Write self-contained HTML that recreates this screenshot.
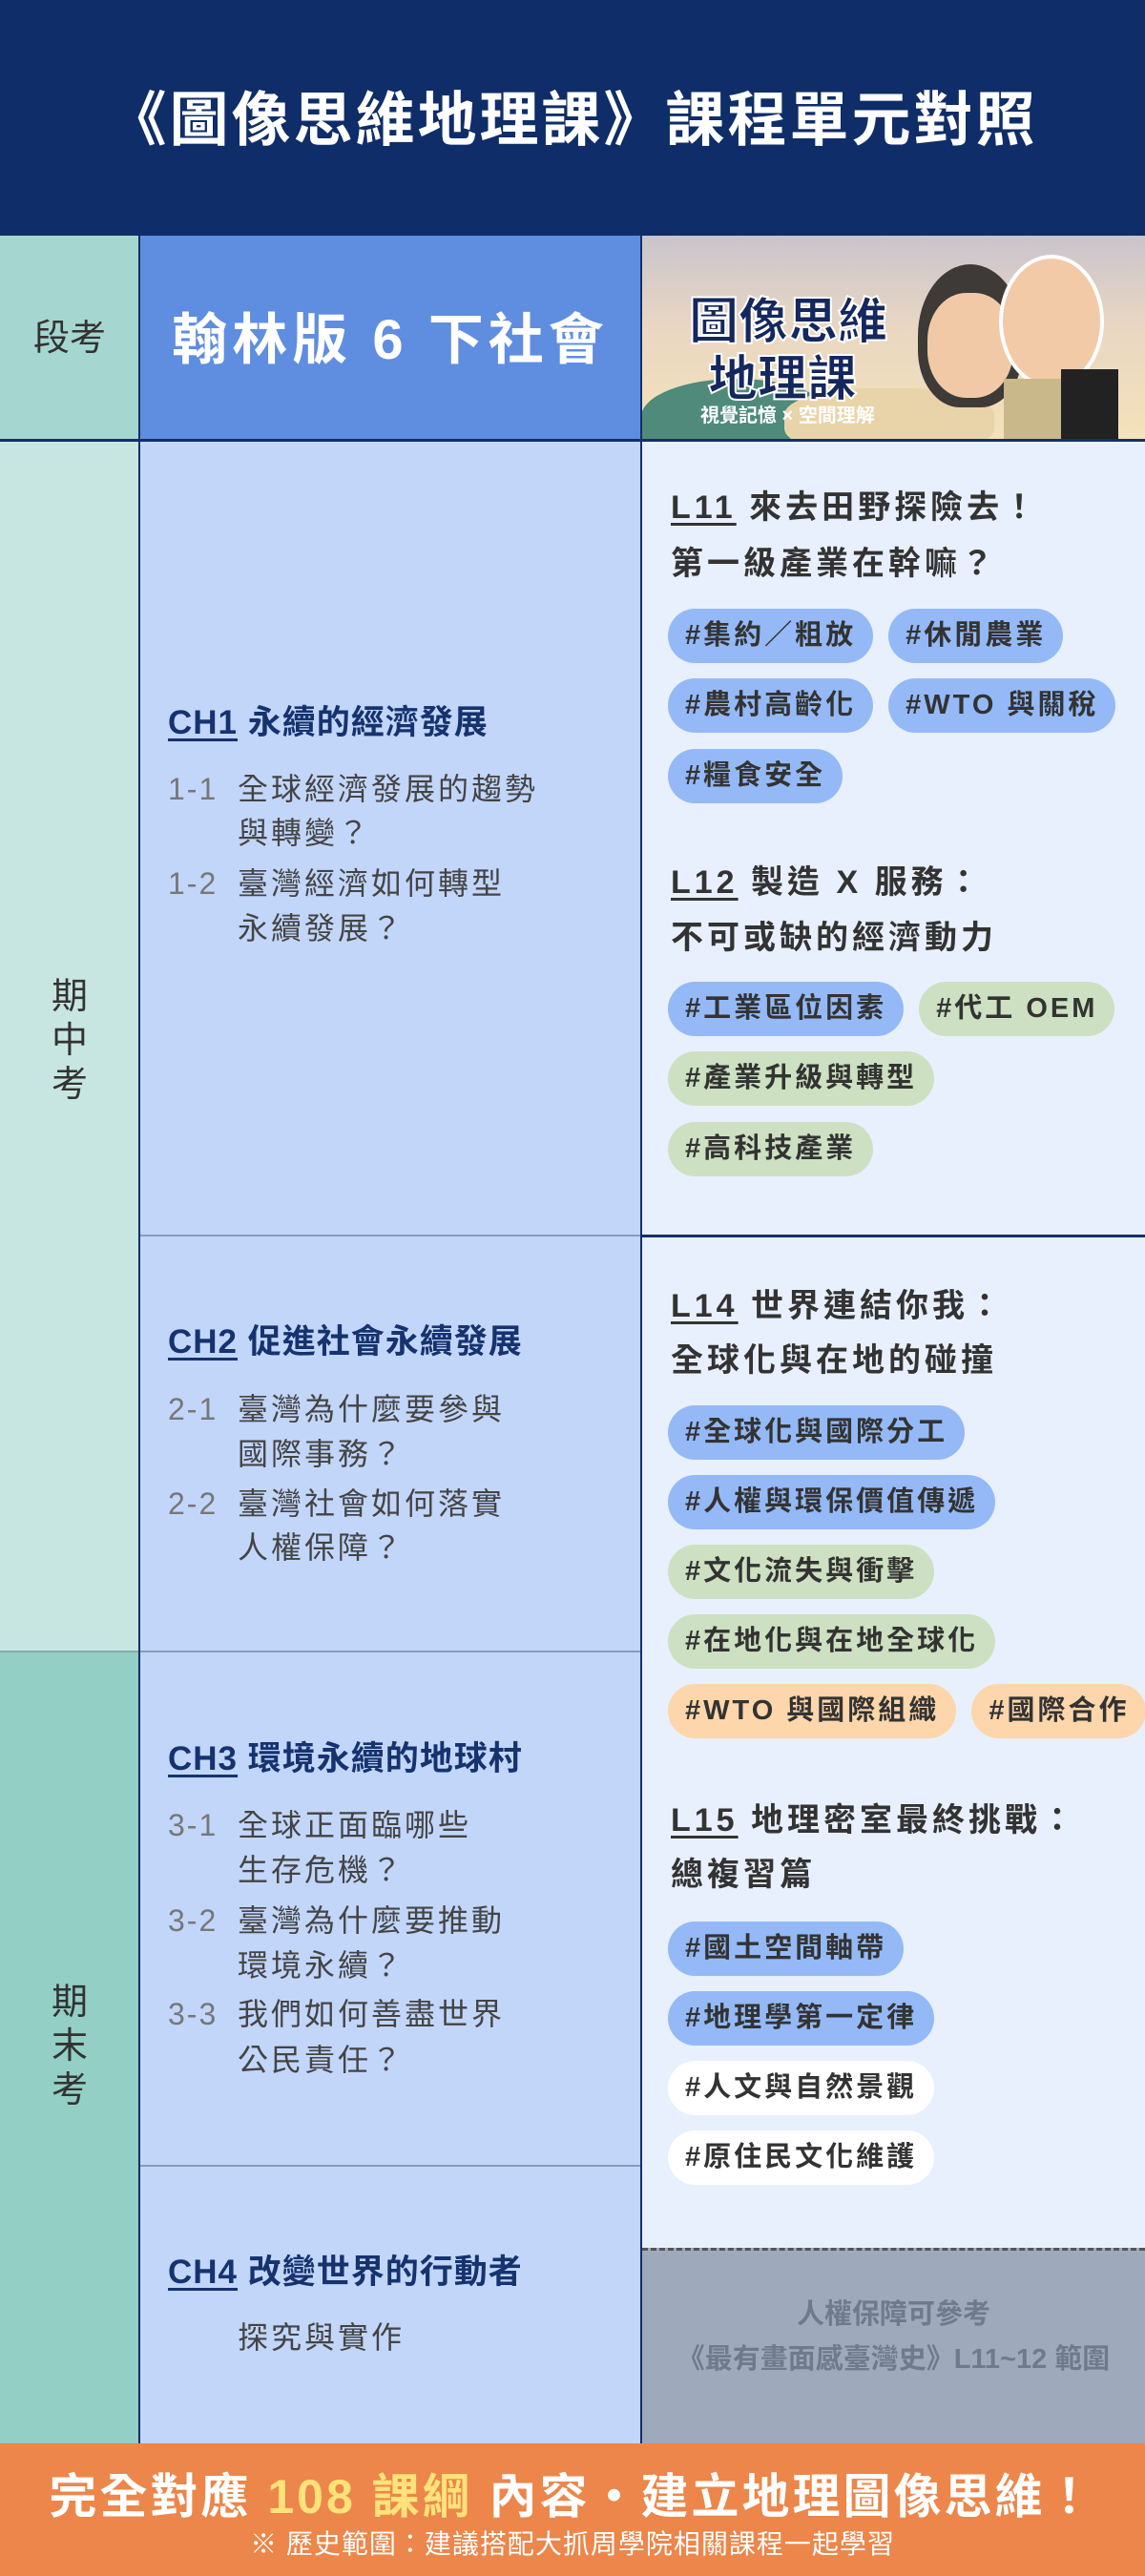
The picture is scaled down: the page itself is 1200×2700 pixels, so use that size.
<!DOCTYPE html>
<html><head><meta charset="utf-8">
<style>
*{margin:0;padding:0;box-sizing:border-box}
body{width:1200px;height:2700px;position:relative;overflow:hidden;font-family:"Liberation Sans","Noto Sans CJK TC",sans-serif;background:#e8f0fd}
.a{position:absolute}
.t{position:absolute;white-space:nowrap}
.ch{font-size:35px;font-weight:700;color:#16336f;height:50px;line-height:50px;left:176px;letter-spacing:1px}
.ch u{text-decoration-thickness:3px;text-underline-offset:5px}
.it{font-size:32px;color:#444;height:44px;line-height:44px;left:176px;letter-spacing:3px}
.it b{font-weight:400;color:#777;display:inline-block;width:73px;letter-spacing:2px}
.it.c{left:249px}
.lt{font-size:34px;font-weight:700;color:#333;height:50px;line-height:50px;left:703px;letter-spacing:4px}
.lt u{text-decoration-thickness:3px;text-underline-offset:5px}
.row{position:absolute;left:700px;height:57px;display:flex;gap:16px}
.tag{height:57px;line-height:57px;border-radius:29px;padding:0 18px;font-size:29px;color:#333;font-weight:600;letter-spacing:3px;white-space:nowrap}
.b{background:#94b9f6}.g{background:#cde0c1}.o{background:#fdd6ab}.w{background:#fff}
</style></head><body>
<div class="a" style="left:0;top:0;width:1200px;height:247px;background:#0f2d68"></div>
<div class="t" style="left:0;width:1200px;top:95px;height:64px;line-height:64px;text-align:center;font-size:62px;font-weight:700;color:#fff;letter-spacing:3px">《圖像思維地理課》課程單元對照</div>

<div class="a" style="left:0;top:247px;width:146px;height:215px;background:#a5d6cf"></div>
<div class="a" style="left:146px;top:247px;width:526px;height:215px;background:#5f8ee0"></div>
<div class="t" style="left:0;width:146px;top:330px;height:50px;line-height:50px;text-align:center;font-size:38px;color:#333">段考</div>
<div class="t" style="left:146px;width:526px;top:325px;height:64px;line-height:64px;text-align:center;font-size:58px;font-weight:700;color:#fff;letter-spacing:5px">翰林版 6 下社會</div>
<div class="a" style="left:672px;top:247px;width:528px;height:215px;background:linear-gradient(180deg,#c9c4cc 0%,#e9d7c3 45%,#f4e2b8 100%);overflow:hidden">
  <div class="a" style="left:0;top:150px;width:200px;height:80px;background:#4f8a7a;border-radius:50% 50% 0 0"></div>
  <div class="a" style="left:150px;top:160px;width:220px;height:70px;background:#e8d4a8;border-radius:40%"></div>
  <div class="a" style="left:290px;top:30px;width:110px;height:150px;background:#3d3a38;border-radius:50% 50% 40% 40%"></div>
  <div class="a" style="left:300px;top:60px;width:90px;height:110px;background:#f1c9a6;border-radius:45%"></div>
  <div class="a" style="left:375px;top:20px;width:110px;height:140px;background:#f2caa8;border-radius:50%;border:4px solid #fff"></div>
  <div class="a" style="left:380px;top:150px;width:100px;height:70px;background:#c9b88a"></div>
  <div class="a" style="left:440px;top:140px;width:60px;height:80px;background:#222"></div>
  <div class="t" style="left:50px;top:48px;font-size:52px;font-weight:900;color:#14285e;-webkit-text-stroke:2px #fff">圖像思維</div>
  <div class="t" style="left:70px;top:108px;font-size:52px;font-weight:900;color:#14285e;-webkit-text-stroke:2px #fff">地理課</div>
  <div class="t" style="left:62px;top:172px;font-size:20px;font-weight:700;color:#fff">視覺記憶 × 空間理解</div>
</div>
<div class="a" style="left:0;top:460px;width:1200px;height:3px;background:#14306a"></div>

<div class="a" style="left:0;top:463px;width:146px;height:1268px;background:#c8e6e1"></div>
<div class="a" style="left:0;top:1731px;width:146px;height:830px;background:#93cfc4"></div>
<div class="a" style="left:0;top:1730px;width:146px;height:2px;background:#8aa"></div>
<div class="t" style="left:0;width:146px;top:1022px;text-align:center;font-size:38px;line-height:46px;color:#333;white-space:normal">期<br>中<br>考</div>
<div class="t" style="left:0;width:146px;top:2076px;text-align:center;font-size:38px;line-height:46px;color:#333;white-space:normal">期<br>末<br>考</div>
<div class="a" style="left:145px;top:247px;width:2px;height:2314px;background:#14306a"></div>

<div class="a" style="left:147px;top:463px;width:524px;height:2098px;background:#c2d6fa"></div>
<div class="a" style="left:147px;top:1294px;width:524px;height:2px;background:#8c9bb5"></div>
<div class="a" style="left:147px;top:1730px;width:524px;height:2px;background:#8c9bb5"></div>
<div class="a" style="left:147px;top:2269px;width:524px;height:2px;background:#8c9bb5"></div>
<div class="a" style="left:671px;top:247px;width:2px;height:2314px;background:#14306a"></div>

<div class="t ch" style="top:733px"><u>CH1</u> 永續的經濟發展</div>
<div class="t it" style="top:805px"><b>1-1</b>全球經濟發展的趨勢</div>
<div class="t it c" style="top:851px">與轉變？</div>
<div class="t it" style="top:904px"><b>1-2</b>臺灣經濟如何轉型</div>
<div class="t it c" style="top:951px">永續發展？</div>

<div class="t ch" style="top:1382px"><u>CH2</u> 促進社會永續發展</div>
<div class="t it" style="top:1455px"><b>2-1</b>臺灣為什麼要參與</div>
<div class="t it c" style="top:1502px">國際事務？</div>
<div class="t it" style="top:1554px"><b>2-2</b>臺灣社會如何落實</div>
<div class="t it c" style="top:1600px">人權保障？</div>

<div class="t ch" style="top:1819px"><u>CH3</u> 環境永續的地球村</div>
<div class="t it" style="top:1891px"><b>3-1</b>全球正面臨哪些</div>
<div class="t it c" style="top:1938px">生存危機？</div>
<div class="t it" style="top:1991px"><b>3-2</b>臺灣為什麼要推動</div>
<div class="t it c" style="top:2038px">環境永續？</div>
<div class="t it" style="top:2089px"><b>3-3</b>我們如何善盡世界</div>
<div class="t it c" style="top:2137px">公民責任？</div>

<div class="t ch" style="top:2357px"><u>CH4</u> 改變世界的行動者</div>
<div class="t it c" style="top:2428px">探究與實作</div>

<div class="a" style="left:673px;top:1294px;width:527px;height:3px;background:#14306a"></div>
<div class="t lt" style="top:507px"><u>L11</u> 來去田野探險去！</div>
<div class="t lt" style="top:566px">第一級產業在幹嘛？</div>
<div class="row" style="top:638px"><span class="tag b">#集約／粗放</span><span class="tag b">#休閒農業</span></div>
<div class="row" style="top:711px"><span class="tag b">#農村高齡化</span><span class="tag b">#WTO 與關稅</span></div>
<div class="row" style="top:785px"><span class="tag b">#糧食安全</span></div>

<div class="t lt" style="top:900px"><u>L12</u> 製造 X 服務：</div>
<div class="t lt" style="top:958px">不可或缺的經濟動力</div>
<div class="row" style="top:1029px"><span class="tag b">#工業區位因素</span><span class="tag g">#代工 OEM</span></div>
<div class="row" style="top:1102px"><span class="tag g">#產業升級與轉型</span></div>
<div class="row" style="top:1176px"><span class="tag g">#高科技產業</span></div>

<div class="t lt" style="top:1344px"><u>L14</u> 世界連結你我：</div>
<div class="t lt" style="top:1401px">全球化與在地的碰撞</div>
<div class="row" style="top:1473px"><span class="tag b">#全球化與國際分工</span></div>
<div class="row" style="top:1546px"><span class="tag b">#人權與環保價值傳遞</span></div>
<div class="row" style="top:1619px"><span class="tag g">#文化流失與衝擊</span></div>
<div class="row" style="top:1692px"><span class="tag g">#在地化與在地全球化</span></div>
<div class="row" style="top:1765px"><span class="tag o">#WTO 與國際組織</span><span class="tag o">#國際合作</span></div>

<div class="t lt" style="top:1883px"><u>L15</u> 地理密室最終挑戰：</div>
<div class="t lt" style="top:1940px">總複習篇</div>
<div class="row" style="top:2014px"><span class="tag b">#國土空間軸帶</span></div>
<div class="row" style="top:2087px"><span class="tag b">#地理學第一定律</span></div>
<div class="row" style="top:2160px"><span class="tag w">#人文與自然景觀</span></div>
<div class="row" style="top:2233px"><span class="tag w">#原住民文化維護</span></div>

<div class="a" style="left:673px;top:2356px;width:527px;height:205px;background:#9ea9bc;border-top:3px dashed #555"></div>
<div class="t" style="left:673px;width:527px;top:2406px;height:40px;line-height:40px;text-align:center;font-size:29px;font-weight:700;color:#6f7a8c">人權保障可參考</div>
<div class="t" style="left:673px;width:527px;top:2453px;height:40px;line-height:40px;text-align:center;font-size:29px;font-weight:700;color:#6f7a8c">《最有畫面感臺灣史》L11~12 範圍</div>

<div class="a" style="left:0;top:2561px;width:1200px;height:139px;background:#ec864a"></div>
<div class="t" style="left:0;width:1200px;top:2587px;height:60px;line-height:60px;text-align:center;font-size:50px;font-weight:700;color:#fff;letter-spacing:3px">完全對應 <span style="color:#ffe27a">108 課綱</span> 內容・建立地理圖像思維！</div>
<div class="t" style="left:0;width:1200px;top:2649px;height:36px;line-height:36px;text-align:center;font-size:28px;color:#fff;letter-spacing:1px">※ 歷史範圍：建議搭配大抓周學院相關課程一起學習</div>
</body></html>
